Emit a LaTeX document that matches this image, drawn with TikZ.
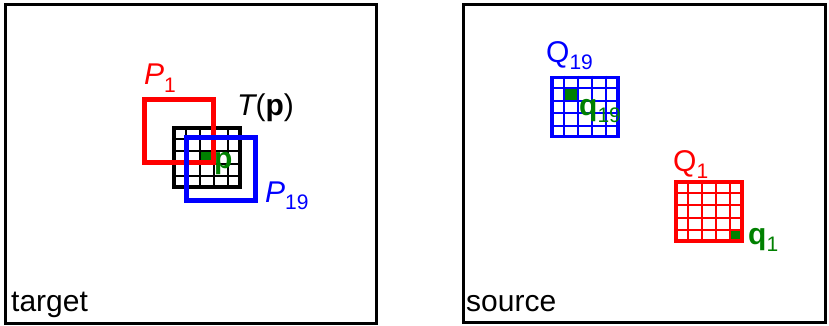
\documentclass[tikz,border=0pt]{standalone}
\usepackage{fontspec}
\setmainfont{Liberation Sans}
\usepackage{tikz}
\usetikzlibrary{positioning, calc, backgrounds}
\definecolor{pred}{RGB}{255,0,0}
\definecolor{pblue}{RGB}{0,0,255}
\definecolor{pgreen}{RGB}{0,128,0}
\newcommand{\sub}[1]{\raisebox{-7pt}{\fontsize{21}{21}\selectfont\upshape\mdseries #1}}
\newcommand{\gridlines}[2]{%
  \foreach \k in {1,...,4}{
    \draw[#2, line width=1.8pt] ($(#1.north west)!\k/5!(#1.north east)$) -- ($(#1.south west)!\k/5!(#1.south east)$);
    \draw[#2, line width=1.8pt] ($(#1.north west)!\k/5!(#1.south west)$) -- ($(#1.north east)!\k/5!(#1.south east)$);
  }}

\begin{document}
\begin{tikzpicture}[
    x=1pt, y=-1pt,
    panel/.style={draw, line width=2.5pt, inner sep=0pt},
    gridbox/.style={draw=#1, line width=3.8pt, inner sep=0pt, minimum width=66pt, minimum height=59pt},
    patch/.style={draw=#1, line width=4.2pt, inner sep=0pt, minimum width=69pt, minimum height=63pt},
    cell/.style={fill=pgreen, inner sep=0pt, minimum width=13.2pt, minimum height=11.8pt},
    lbl/.style={inner sep=0pt, anchor=base west, font=\fontsize{30}{32}\selectfont},
    title/.style={inner sep=0pt, anchor=base west, font=\fontsize{30}{32}\selectfont}
]
\useasboundingbox (0,0) rectangle (829,326);

% Panels
\node[panel, minimum width=371pt, minimum height=319pt] (tgt) at (191,164) {};
\node[panel, minimum width=362pt, minimum height=318pt] (src) at (644.5,163.5) {};
\node[title] (tgtlbl) at (11,311) {target};
\node[title] (srclbl) at (466,311) {source};

% Target side
\node[gridbox=black] (Tp) at (207,157.5) {};
\gridlines{Tp}{black}
\begin{scope}[on background layer]
  \node[cell] (pc) at (Tp.center) {};
\end{scope}
\node[patch=pred] (P1) at (179,131) {};
\node[patch=pblue] (P19) at (221,169) {};

\node[lbl, text=pred] (P1lbl) at (144,85) {\itshape P\sub{1}};
\node[lbl] (Tlbl) at (237,116) {{\itshape T}(\textbf{p})};
\node[lbl, text=pgreen] (plbl) at (214,168) {\textbf{p}};
\node[lbl, text=pblue] (P19lbl) at (265,202) {\itshape P\sub{19}};

% Source side
\node[gridbox=pblue] (Q19) at (585,107) {};
\gridlines{Q19}{pblue}
\node[gridbox=pred] (Q1) at (709,211.5) {};
\gridlines{Q1}{pred}
\begin{scope}[on background layer]
  \node[cell] (q19c) at ($(Q19.north west)!0.3!(Q19.south east)$) {};
  \node[cell] (q1c) at ($(Q1.north west)!0.9!(Q1.south east)$) {};
\end{scope}

\node[lbl, text=pblue] (Q19lbl) at (546,63) {Q\sub{19}};
\node[lbl, text=pgreen] (q19lbl) at (579,116) {\textbf{q}\sub{19}};
\node[lbl, text=pred] (Q1lbl) at (673,171) {Q\sub{1}};
\node[lbl, text=pgreen] (q1lbl) at (748,244) {\textbf{q}\sub{1}};

\end{tikzpicture}
\end{document}
